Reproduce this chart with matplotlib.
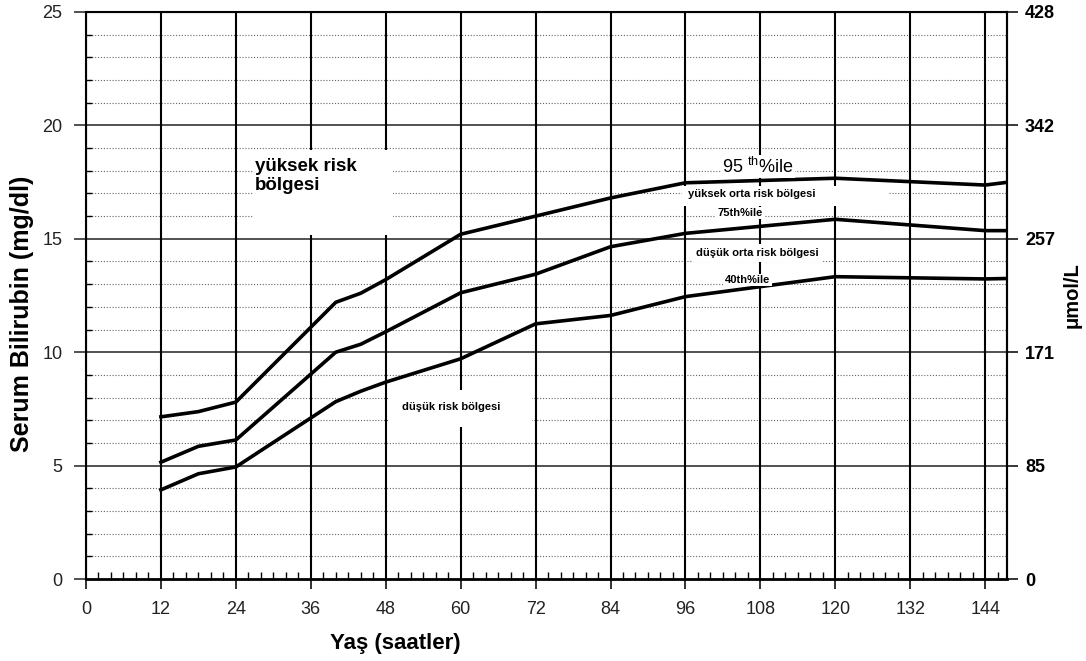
import matplotlib
matplotlib.use("Agg")
import matplotlib.pyplot as plt
from matplotlib.patches import Rectangle

plt.rcParams['font.family'] = ['Liberation Sans', 'DejaVu Sans']
plt.rcParams['mathtext.fontset'] = 'custom'
plt.rcParams['mathtext.rm'] = 'Liberation Sans'

# nomogram data (hours of age vs serum bilirubin, mg/dl)
hours = [12, 18, 24, 40, 44, 48, 60, 72, 84, 96, 120, 144, 147.5]
p95 = [7.15, 7.38, 7.8, 12.2, 12.6, 13.2, 15.2, 16.0, 16.8, 17.47, 17.67, 17.37, 17.49]
p75 = [5.15, 5.85, 6.13, 10.0, 10.35, 10.9, 12.62, 13.44, 14.65, 15.24, 15.86, 15.36, 15.36]
p40 = [3.93, 4.64, 4.94, 7.82, 8.28, 8.68, 9.71, 11.25, 11.62, 12.45, 13.33, 13.23, 13.25]

x_ticks = list(range(0, 145, 12))
mg_ticks = [0, 5, 10, 15, 20, 25]
umol_labels = ['0', '85', '171', '257', '342', '428']

fig = plt.figure(figsize=(10.86, 6.61), dpi=100)
ax = fig.add_axes([86 / 1086, 1 - 579 / 661, 921 / 1086, 567 / 661])
ax.set_xlim(0, 147.5)
ax.set_ylim(0, 25)

# grid: dotted minor lines every 1 mg/dl, solid at every 5
minor_y = [v for v in range(1, 25) if v % 5]
for v in minor_y:
    ax.axhline(v, color='#666666', lw=0.8, ls=(0, (1, 1.6)), zorder=1)
for v in mg_ticks[1:-1]:
    ax.axhline(v, color='#222222', lw=1.1, zorder=1)
for h in x_ticks[1:]:
    ax.axvline(h, color='black', lw=1.5, zorder=1)

# white cut-outs behind region labels
for (x0, x1, y0, y1) in [(26.75, 49.2, 15.15, 18.9),
                         (95.5, 128.5, 16.45, 17.33),
                         (48.4, 71.4, 6.7, 8.33)]:
    ax.add_patch(Rectangle((x0, y0), x1 - x0, y1 - y0, facecolor='white',
                           edgecolor='none', zorder=1.5))

for series in (p95, p75, p40):
    ax.plot(hours, series, color='black', lw=2.6, zorder=3,
            solid_joinstyle='round')

for s in ax.spines.values():
    s.set_linewidth(1.5)
    s.set_zorder(2.5)
ax.spines['bottom'].set_linewidth(2)

ax.set_xticks(x_ticks)
ax.set_xticks([h for h in range(2, 148, 2) if h % 12], minor=True)
ax.set_yticks(mg_ticks)
ax.set_yticks(minor_y, minor=True)
ax.tick_params(axis='x', which='major', direction='out', length=7, width=1.3,
               pad=9, labelsize=13, colors='#222222')
ax.tick_params(axis='x', which='minor', direction='in', length=5, width=1)
ax.tick_params(axis='y', which='major', direction='out', length=9, width=1.1,
               pad=8, labelsize=13, colors='#222222')
ax.tick_params(axis='y', which='minor', direction='in', length=4, width=1)

ax2 = ax.twinx()
ax2.set_ylim(0, 25)
ax2.set_yticks(mg_ticks)
ax2.set_yticklabels(umol_labels, fontweight='bold')
ax2.tick_params(axis='y', direction='out', length=8, width=1.1, pad=5,
                labelsize=13)
ax2.spines['right'].set_linewidth(1.5)

fig.text(395 / 1086, 1 - 643 / 661, 'Yaş (saatler)', fontsize=16,
         fontweight='bold', ha='center', va='center')
fig.text(22 / 1086, 1 - 314 / 661, 'Serum Bilirubin (mg/dl)', fontsize=18,
         fontweight='bold', rotation=90, ha='center', va='center')
fig.text(1072 / 1086, 1 - 295 / 661, 'μmol/L', fontsize=14.5,
         fontweight='bold', rotation=90, ha='center', va='center')

# zone labels
ax.text(27.1, 18.55, 'yüksek risk\nbölgesi', fontsize=13.5, fontweight='bold',
        ha='left', va='top', linespacing=1.15, zorder=4)
ax.text(101.9, 18.17, r'95 $^{\mathrm{th}}$%ile', fontsize=13, ha='left',
        va='center', zorder=4,
        bbox=dict(facecolor='white', edgecolor='none', pad=1))
ax.text(96.4, 16.98, 'yüksek orta risk bölgesi', fontsize=8,
        fontweight='bold', ha='left', va='center', zorder=4)
ax.text(104.8, 16.14, '75th%ile', fontsize=8, fontweight='bold',
        ha='center', va='center', zorder=4,
        bbox=dict(facecolor='white', edgecolor='none', pad=1))
ax.text(107.5, 14.37, 'düşük orta risk bölgesi', fontsize=8,
        fontweight='bold', ha='center', va='center', zorder=4,
        bbox=dict(facecolor='white', edgecolor='none', pad=3))
ax.text(106.0, 13.18, '40th%ile', fontsize=8, fontweight='bold',
        ha='center', va='center', zorder=4,
        bbox=dict(facecolor='white', edgecolor='none', pad=1))
ax.text(58.5, 7.58, 'düşük risk bölgesi', fontsize=8, fontweight='bold',
        ha='center', va='center', zorder=4)

fig.savefig('out.png', dpi=100, facecolor='white')
